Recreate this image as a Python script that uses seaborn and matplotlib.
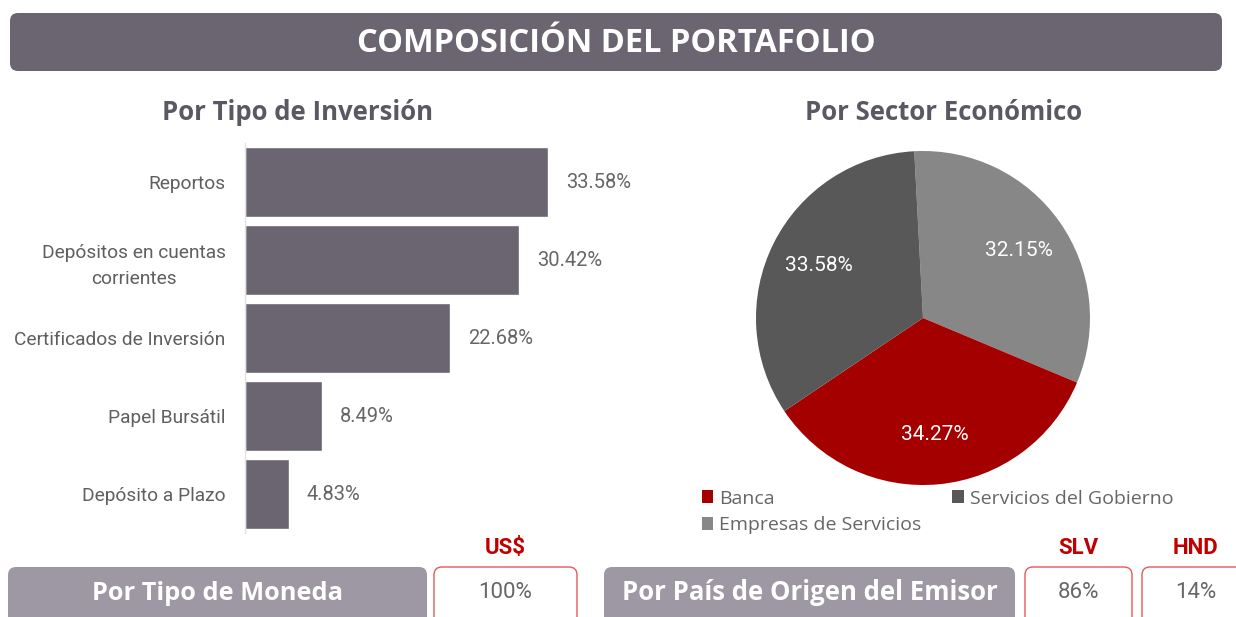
import matplotlib
matplotlib.use('Agg')
import matplotlib.pyplot as plt
from matplotlib.patches import FancyBboxPatch, Patch
import pandas as pd
import seaborn as sns

# data
tipos = ['Reportos', 'Depósitos en cuentas\ncorrientes', 'Certificados de Inversión',
         'Papel Bursátil', 'Depósito a Plazo']
tipos_pct = [33.58, 30.42, 22.68, 8.49, 4.83]

sectores = ['Empresas de Servicios', 'Banca', 'Servicios del Gobierno']
sectores_pct = [32.15, 34.27, 33.58]
sectores_col = ['#878787', '#A50000', '#585858']

monedas = ['US$']
monedas_pct = [100]

paises = ['SLV', 'HND']
paises_pct = [86, 14]

W, H = 1236, 617
sns.set_theme(style='white')
plt.rcParams['font.family'] = ['Roboto', 'DejaVu Sans']
SANS2 = ['Open Sans', 'DejaVu Sans']

fig = plt.figure(figsize=(W / 100, H / 100), dpi=100)
fig.patch.set_facecolor('white')

# background layer in pixel coordinates
bg = fig.add_axes([0, 0, 1, 1], zorder=0)
bg.set_xlim(0, W)
bg.set_ylim(H, 0)
bg.axis('off')

def ax_rect(l, t, r, b):
    return [l / W, 1 - b / H, (r - l) / W, (b - t) / H]

# header
bg.add_patch(FancyBboxPatch((10, 13), 1212, 58, boxstyle='round,pad=0,rounding_size=8',
                            fc='#6B6571', ec='none'))
bg.text(616, 43, 'COMPOSICIÓN DEL PORTAFOLIO', color='white', fontsize=23.5,
        fontweight='bold', ha='center', va='center', family=SANS2)

sub_kw = dict(color='#5B5763', fontsize=18.5, fontweight='bold', ha='center', va='center',
              family=SANS2)
bg.text(297, 113, 'Por Tipo de Inversión', **sub_kw)
bg.text(944, 112, 'Por Sector Económico', **sub_kw)

# bar chart
ax = fig.add_axes(ax_rect(245, 143, 645, 533), zorder=1)
ax.patch.set_alpha(0)
df = pd.DataFrame({'tipo': tipos, 'pct': tipos_pct})
sns.barplot(data=df, x='pct', y='tipo', orient='h', color='#6B6571', saturation=1,
            width=0.91, ax=ax)
ax.set_xlim(0, 400 / 9.02)
ax.set_ylim(4.5, -0.5)
ax.set_xlabel('')
ax.set_ylabel('')
ax.set_xticks([])
ax.tick_params(axis='y', length=0, pad=14, labelsize=13.8, labelcolor='#5F5F5F')
for lbl in ax.get_yticklabels():
    lbl.set_multialignment('center')
    lbl.set_linespacing(1.55)
for s in ['top', 'right', 'bottom']:
    ax.spines[s].set_visible(False)
ax.spines['left'].set_color('#E2E2E2')
ax.spines['left'].set_linewidth(1)
ax.bar_label(ax.containers[0], labels=[f'{v:.2f}%' for v in tipos_pct], padding=13,
             fontsize=14.5, color='#666666')

# pie chart
pax = fig.add_axes(ax_rect(756, 151, 1090, 485), zorder=1)
wedges, _, autotexts = pax.pie(sectores_pct, colors=sectores_col, startangle=93,
                               counterclock=False, autopct='%.2f%%', pctdistance=0.7,
                               wedgeprops=dict(linewidth=0),
                               textprops=dict(color='white', fontsize=15))
pax.set_xlim(-1, 1)
pax.set_ylim(-1, 1)

order = [1, 0, 2]
handles = [Patch(fc=sectores_col[i], ec='none') for i in order]
labels = [sectores[i] for i in order]
fig.legend(handles, labels, loc='upper left', bbox_to_anchor=(684 / W, 1 - 472 / H),
           ncol=2, frameon=False, handlelength=0.6, handleheight=0.6, handletextpad=0.3,
           columnspacing=1.6, labelspacing=0.45,
           prop=dict(family=SANS2, size=14), labelcolor='#666666')

# bottom row
box_kw = dict(boxstyle='round,pad=0,rounding_size=8', fc='#9D98A3', ec='none')
bg.add_patch(FancyBboxPatch((8, 567), 419, 70, **box_kw))
bg.text(218, 593, 'Por Tipo de Moneda', color='white', fontsize=18.3, fontweight='bold',
        ha='center', va='center', family=SANS2)
bg.add_patch(FancyBboxPatch((604, 567), 411, 70, **box_kw))
bg.text(810, 593, 'Por País de Origen del Emisor', color='white', fontsize=18.5,
        fontweight='bold', ha='center', va='center', family=SANS2)

def value_boxes(names, vals, x0, w, step):
    for i, (n, v) in enumerate(zip(names, vals)):
        x = x0 + i * step
        bg.add_patch(FancyBboxPatch((x, 567), w, 70,
                                    boxstyle='round,pad=0,rounding_size=8',
                                    fc='white', ec='#E05A5A', lw=1))
        bg.text(x + w / 2, 548, n, color='#C00000', fontsize=16, fontweight='bold',
                ha='center', va='center')
        bg.text(x + w / 2, 593, f'{v}%', color='#666666', fontsize=16,
                ha='center', va='center')

value_boxes(monedas, monedas_pct, 434, 143, 150)
value_boxes(paises, paises_pct, 1025, 107, 117)

fig.savefig('out.png', dpi=100, facecolor='white')
